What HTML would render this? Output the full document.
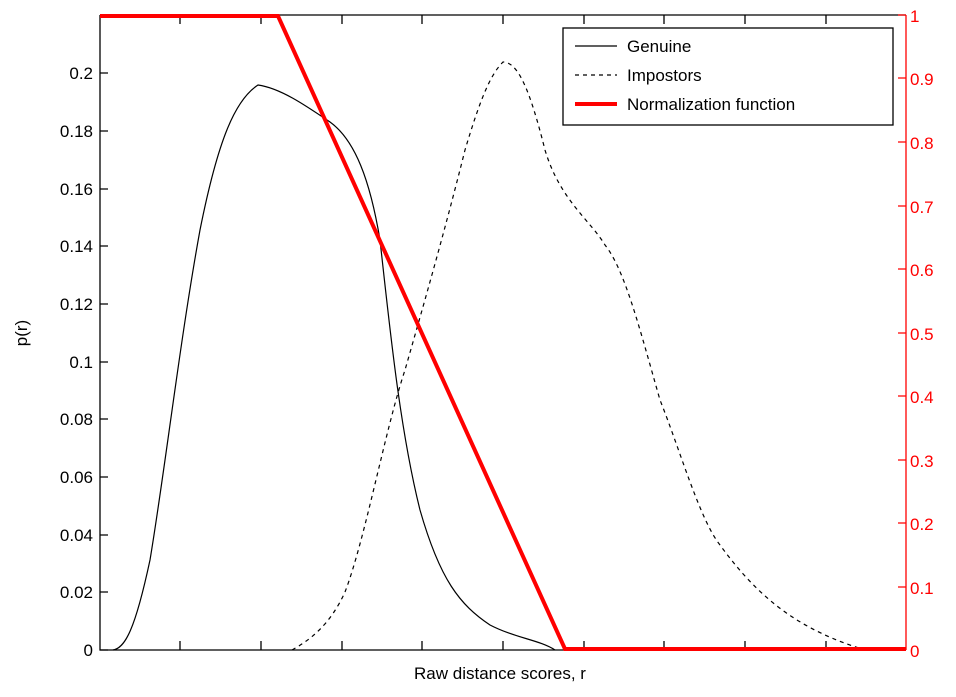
<!DOCTYPE html><html><head><style>body{margin:0;background:#fff}svg{display:block}text{font-family:"Liberation Sans",sans-serif;font-size:17px}</style></head><body>
<svg width="956" height="697" viewBox="0 0 956 697">
<rect width="956" height="697" fill="#fff"/>
<g stroke="#000" stroke-width="1.3" fill="none">
<path d="M100,15V650H906"/><path d="M100,15H906"/>
<path d="M180,650v-9M261,650v-9M342,650v-9M422,650v-9M503,650v-9M584,650v-9M664,650v-9M745,650v-9M826,650v-9M180,15v9M261,15v9M342,15v9M422,15v9M503,15v9M584,15v9M664,15v9M745,15v9M826,15v9"/>
<path d="M100,650h8M100,592h8M100,535h8M100,477h8M100,419h8M100,362h8M100,304h8M100,246h8M100,189h8M100,131h8M100,73h8"/>
</g>
<g text-anchor="end" fill="#000">
<text x="93" y="656">0</text><text x="93" y="598">0.02</text><text x="93" y="541">0.04</text><text x="93" y="483">0.06</text><text x="93" y="425">0.08</text><text x="93" y="368">0.1</text><text x="93" y="310">0.12</text><text x="93" y="252">0.14</text><text x="93" y="195">0.16</text><text x="93" y="137">0.18</text><text x="93" y="79">0.2</text>
</g>
<text x="500" y="679" text-anchor="middle">Raw distance scores, r</text>
<text transform="translate(27,333) rotate(-90)" text-anchor="middle">p(r)</text>
<g stroke="#f00" stroke-width="1.3"><path d="M906,15V650M906,15h-8M906,78h-8M906,142h-8M906,206h-8M906,269h-8M906,333h-8M906,396h-8M906,460h-8M906,523h-8M906,587h-8M906,650h-8"/></g>
<g fill="#f00">
<text x="910" y="22">1</text><text x="910" y="85">0.9</text><text x="910" y="149">0.8</text><text x="910" y="213">0.7</text><text x="910" y="276">0.6</text><text x="910" y="340">0.5</text><text x="910" y="403">0.4</text><text x="910" y="467">0.3</text><text x="910" y="530">0.2</text><text x="910" y="594">0.1</text><text x="910" y="657">0</text>
</g>
<path d="M113,650C125,648 135,630 150,560C165,470 180,340 200,230C218,140 235,100 258,85C280,88 305,105 330,122C355,140 370,180 380,240C390,330 400,430 420,510C440,580 460,605 490,625C515,638 540,640 555,650" fill="none" stroke="#000" stroke-width="1.2"/>
<path d="M292,650C310,640 330,625 345,592C365,540 385,430 405,370C425,300 445,230 465,150C480,100 490,75 503,62C518,62 530,90 545,150C560,200 590,220 605,245C625,270 640,330 660,400C680,450 700,520 720,545C760,600 800,630 865,650" fill="none" stroke="#000" stroke-width="1.2" stroke-dasharray="4,4"/>
<path d="M100,16H278L565,649H906" fill="none" stroke="#f00" stroke-width="4"/>
<rect x="563" y="28" width="330" height="97" fill="#fff" stroke="#000" stroke-width="1.3"/>
<path d="M575,46h42" stroke="#000" stroke-width="1.2"/><text x="627" y="52">Genuine</text>
<path d="M575,75h42" stroke="#000" stroke-width="1.2" stroke-dasharray="4,4"/><text x="627" y="81">Impostors</text>
<path d="M575,104h42" stroke="#f00" stroke-width="4"/><text x="627" y="110">Normalization function</text>
</svg></body></html>
